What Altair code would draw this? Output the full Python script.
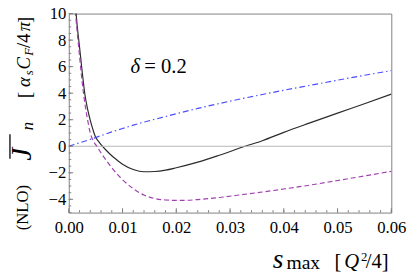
import altair as alt
import pandas as pd
import numpy as np

# ---- data ----
s_solid = [0.0013, 0.0015, 0.002, 0.0025, 0.003, 0.0035, 0.004, 0.0045, 0.005, 0.0055,
           0.006, 0.007, 0.008, 0.009, 0.010, 0.012, 0.014, 0.016, 0.018, 0.020,
           0.024, 0.028, 0.0328, 0.036, 0.040, 0.045, 0.050, 0.055, 0.060]
v_solid = [10.3, 9.36, 7.48, 5.6, 3.9, 2.8, 1.95, 1.25, 0.67, 0.38,
           0.12, -0.32, -0.72, -1.05, -1.35, -1.75, -1.92, -1.9, -1.8, -1.62,
           -1.2, -0.68, 0.0, 0.42, 1.05, 1.78, 2.5, 3.2, 3.93]

s_dashed = [0.0012, 0.0015, 0.002, 0.0025, 0.003, 0.0035, 0.004, 0.0045, 0.005, 0.0055,
            0.006, 0.007, 0.008, 0.009, 0.010, 0.012, 0.014, 0.016, 0.018, 0.020,
            0.022, 0.024, 0.028, 0.032, 0.036, 0.040, 0.045, 0.050, 0.055, 0.060]
v_dashed = [10.2, 8.9, 6.8, 4.8, 3.2, 2.0, 1.0, 0.45, 0.12, -0.18,
            -0.5, -1.08, -1.62, -2.1, -2.52, -3.2, -3.68, -3.94, -4.05, -4.08,
            -4.07, -4.02, -3.86, -3.66, -3.45, -3.22, -2.92, -2.58, -2.24, -1.89]

s_dotdash = [0.0, 0.002, 0.004, 0.006, 0.008, 0.010, 0.012, 0.014, 0.016, 0.020,
             0.024, 0.028, 0.032, 0.036, 0.040, 0.045, 0.050, 0.055, 0.060]
v_dotdash = [0.0, 0.26, 0.52, 0.8, 1.08, 1.34, 1.59, 1.82, 2.03, 2.45,
             2.85, 3.22, 3.57, 3.9, 4.22, 4.6, 4.98, 5.35, 5.7]

x_major = [0.0, 0.01, 0.02, 0.03, 0.04, 0.05, 0.06]
x_minor = [round(v, 4) for v in np.arange(0.0, 0.0601, 0.002)]
y_major = [-4, -2, 0, 2, 4, 6, 8, 10]
y_minor = [float(v) for v in np.arange(-5.0, 10.01, 0.5)]

W, H = 329, 203
FONT = "Liberation Serif, DejaVu Serif, serif"
FRAME = "#808080"

xs = alt.Scale(domain=[0, 0.06], nice=False, zero=False)
ys = alt.Scale(domain=[-5, 10], nice=False, zero=False)

df_solid = pd.DataFrame({"s": s_solid, "v": v_solid})
df_dashed = pd.DataFrame({"s": s_dashed, "v": v_dashed})
df_dotdash = pd.DataFrame({"s": s_dotdash, "v": v_dotdash})

x_axis = alt.Axis(values=x_major, format=".2f", title=None, ticks=False, domain=False,
                  grid=False, labelFont=FONT, labelFontSize=17, labelColor="black",
                  labelPadding=7, labelFlush=False)
y_axis = alt.Axis(values=y_major, format="d", title=None, ticks=False, domain=False,
                  grid=False, labelFont=FONT, labelFontSize=17, labelColor="black",
                  labelPadding=3)

X = lambda f: alt.X(f, scale=xs, axis=x_axis)
Y = lambda f: alt.Y(f, scale=ys, axis=y_axis)

solid = alt.Chart(df_solid).mark_line(color="#2b2b2b", strokeWidth=1.2, clip=True,
                                      interpolate="monotone").encode(x=X("s:Q"), y=Y("v:Q"))

zero = alt.Chart(pd.DataFrame({"v": [0]})).mark_rule(color="#b5b5b5", strokeWidth=1).encode(
    y=Y("v:Q"))

dashed = alt.Chart(df_dashed).mark_line(color="#a040b0", strokeWidth=1.2, clip=True,
                                        strokeDash=[5, 3], interpolate="monotone").encode(
    x=X("s:Q"), y=Y("v:Q"))

dotdash = alt.Chart(df_dotdash).mark_line(color="#4d4dff", strokeWidth=1.2, clip=True,
                                          strokeDash=[6, 3, 1.5, 3], interpolate="monotone").encode(
    x=X("s:Q"), y=Y("v:Q"))


def xticks(vals, size):
    return alt.Chart(pd.DataFrame({"s": vals})).mark_rule(color=FRAME, strokeWidth=1).encode(
        x=X("s:Q"), y=alt.value(H), y2=alt.value(H - size))


def yticks(vals, size):
    return alt.Chart(pd.DataFrame({"v": vals})).mark_rule(color=FRAME, strokeWidth=1).encode(
        y=Y("v:Q"), x=alt.value(0), x2=alt.value(size))


def txt(t, x, y, size, italic=False, angle=0, align="left", baseline="alphabetic"):
    kw = dict(font=FONT, fontSize=size, color="black", align=align, baseline=baseline)
    if italic:
        kw["fontStyle"] = "italic"
    if angle:
        kw["angle"] = angle
    return alt.Chart(pd.DataFrame({"t": [t]})).mark_text(**kw).encode(
        text="t:N", x=alt.value(x), y=alt.value(y))


labels = [
    # delta annotation
    txt("δ", 63, 61, 21, italic=True),
    txt("= 0.2", 77, 61, 21),
    # x title
    txt("s", 208, 260, 28, italic=True),
    txt("max", 222, 261, 20),
    txt("[", 271, 260, 21),
    txt("Q", 281, 260, 21, italic=True),
    txt("2", 298, 252, 13),
    txt("/4]", 303, 260, 21),
    # y title (rotated)
    txt("(NLO)", -42, 221, 17, angle=270),
    txt("J", -39, 150, 30, italic=True, angle=270),
    txt("n", -37, 119, 17, italic=True, angle=270),
    txt("[", -39, 86, 19, angle=270),
    txt("α", -40, 75, 19, italic=True, angle=270),
    txt("s", -37, 63, 13, italic=True, angle=270),
    txt("C", -40, 57, 19, italic=True, angle=270),
    txt("F", -37, 43, 13, italic=True, angle=270),
    txt("/4", -40, 35, 19, angle=270),
    txt("π", -40, 18, 19, italic=True, angle=270),
    txt("]", -39, 9.5, 19, angle=270),
]

overline = alt.Chart(pd.DataFrame({"k": [0]})).mark_rule(color="black", strokeWidth=1.3).encode(
    x=alt.value(-60), y=alt.value(123), y2=alt.value(148))

chart = alt.layer(
    solid, zero, dashed, dotdash,
    xticks(x_minor, 2.5), xticks(x_major, 4.5),
    yticks(y_minor, 2.5), yticks(y_major, 4.5),
    overline, *labels
).properties(
    width=W, height=H,
    autosize=alt.AutoSizeParams(type="none"),
    padding={"left": 62, "top": 3, "right": 16, "bottom": 63},
).configure_view(stroke=FRAME, strokeWidth=1)

chart.save("out.html", embed_options={"renderer": "svg", "actions": False})
